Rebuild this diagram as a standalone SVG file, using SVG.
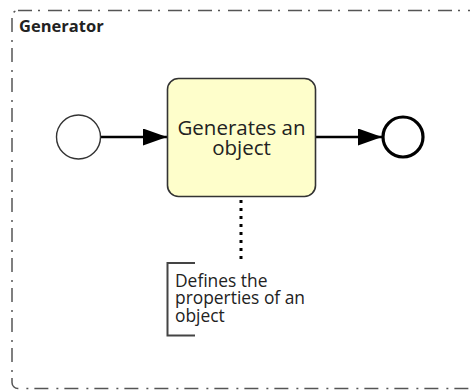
<svg xmlns="http://www.w3.org/2000/svg" width="470" height="390" viewBox="0 0 470 390">
  <defs>
    <style>
      .pool { fill: none; stroke: #555; stroke-width: 1.5; stroke-dasharray: 14 6 2 8; }
      .pool-label { font-family: "Open Sans", "Liberation Sans", sans-serif; font-weight: bold; font-size: 16.5px; fill: #222; }
      .event { fill: #fff; stroke: #333; stroke-width: 1.4; }
      .event-end { fill: #fff; stroke: #000; stroke-width: 3.2; }
      .task { fill: #fefecb; stroke: #333; stroke-width: 1.6; }
      .task-label { font-family: "Open Sans", "Liberation Sans", sans-serif; font-size: 20.5px; fill: #222; text-anchor: middle; }
      .flow { fill: none; stroke: #000; stroke-width: 2.5; }
      .assoc { fill: none; stroke: #000; stroke-width: 3; stroke-dasharray: 3 5; }
      .bracket { fill: none; stroke: #444; stroke-width: 2; }
      .note { font-family: "Open Sans", "Liberation Sans", sans-serif; font-size: 17.4px; fill: #222; }
    </style>
    <marker id="arrow" viewBox="0 0 24 17" refX="24" refY="8.5" markerWidth="24" markerHeight="17" markerUnits="userSpaceOnUse" orient="auto">
      <path d="M0,0 L24,8.5 L0,17 Z" fill="#000"/>
    </marker>
  </defs>

  <!-- group container -->
  <g id="generator">
    <rect class="pool" x="12" y="10.5" width="480" height="378" rx="6"/>
    <text class="pool-label" x="19" y="31.5">Generator</text>
  </g>

  <!-- connectors -->
  <g id="connectors">
    <line class="flow" x1="101" y1="137" x2="167" y2="137" marker-end="url(#arrow)"/>
    <line class="flow" x1="316" y1="137" x2="382" y2="137" marker-end="url(#arrow)"/>
    <line class="assoc" x1="241" y1="200" x2="241" y2="262"/>
  </g>

  <g id="start-event">
    <circle class="event" cx="78.5" cy="137" r="22"/>
  </g>

  <g id="task">
    <rect class="task" x="167.5" y="78.5" width="148" height="118" rx="11"/>
    <text class="task-label" x="241.5" y="135">Generates an</text>
    <text class="task-label" x="241.5" y="155">object</text>
  </g>

  <g id="end-event">
    <circle class="event-end" cx="403" cy="137" r="20"/>
  </g>

  <g id="annotation">
    <path class="bracket" d="M195,263 H167.5 V335.5 H195"/>
    <text class="note" x="175" y="286.5">Defines the</text>
    <text class="note" x="175" y="304">properties of an</text>
    <text class="note" x="175" y="321.5">object</text>
  </g>
</svg>
